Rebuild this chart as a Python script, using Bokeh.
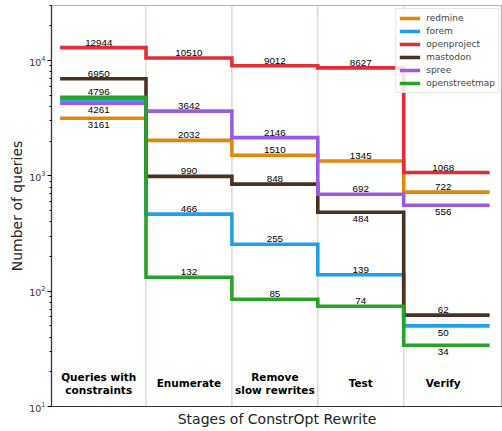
from bokeh.plotting import figure
from bokeh.models import Range1d, Legend, LegendItem, FixedTicker, LogTicker, Span
from bokeh.core.properties import value
from bokeh.embed import file_html
from bokeh.resources import INLINE

# ---- data ----
stages = ["Queries with\nconstraints", "Enumerate", "Remove\nslow rewrites", "Test", "Verify"]
series_names = ["redmine", "forem", "openproject", "mastodon", "spree", "openstreetmap"]
redmine = [3161, 2032, 1510, 1345, 722]
forem = [4560, 466, 255, 139, 50]
openproject = [12944, 10510, 9012, 8627, 1068]
mastodon = [6950, 990, 848, 484, 62]
spree = [4261, 3642, 2146, 692, 556]
openstreetmap = [4796, 132, 85, 74, 34]
all_values = [redmine, forem, openproject, mastodon, spree, openstreetmap]

# ---- styling ----
colors = ["#e0870c", "#22a0e6", "#e12d36", "#4a3122", "#9a5ae6", "#27a327"]
# label placement per series & stage: 1 above line, -1 below line, 0 not shown
placement = [
    [-1, 1, 1, 1, 1],
    [0, 1, 1, 1, -1],
    [1, 1, 1, 1, 1],
    [1, 1, 1, -1, 1],
    [-1, 1, 1, 1, -1],
    [1, 1, 1, 1, -1],
]
label_shift = [-0.05, 0.0, 0.0, 0.0, -0.04]

n = len(stages)
edges = [i - 0.5 for i in range(n + 1)]

p = figure(width=502, height=431, output_backend="svg", toolbar_location=None,
           y_axis_type="log",
           x_range=Range1d(-0.6, 4.65), y_range=Range1d(10, 30000),
           min_border_left=51, min_border_right=0, min_border_top=5, min_border_bottom=25)

p.xgrid.visible = False
p.ygrid.visible = False
p.outline_line_color = "#b0b0b0"
p.outline_line_width = 1.2
p.background_fill_color = "white"

# stage boundaries (drawn beneath the data)
for b in edges[1:-1]:
    p.add_layout(Span(location=b, dimension="height", line_color="#e6d6d6",
                      line_width=1.5, level="underlay"))

renderers = []
for vals, c in zip(all_values, colors):
    xs, ys = [], []
    for i, v in enumerate(vals):
        xs += [edges[i], edges[i + 1]]
        ys += [v, v]
    r = p.line(x=xs, y=ys, line_color=c, line_width=3.6, line_join="miter")
    renderers.append(r)

ax, ay, at = [], [], []
bx, by, bt = [], [], []
for vals, pl in zip(all_values, placement):
    for i, v in enumerate(vals):
        if pl[i] == 1:
            ax.append(i + label_shift[i]); ay.append(v); at.append(str(v))
        elif pl[i] == -1:
            bx.append(i + label_shift[i]); by.append(v); bt.append(str(v))

p.text(x=ax, y=ay, text=at, text_align="center", text_baseline="alphabetic",
       y_offset=-5, text_font=value("Liberation Sans"), text_font_size="9.8px", text_color="black")
p.text(x=bx, y=by, text=bt, text_align="center", text_baseline="top",
       y_offset=4, text_font=value("Liberation Sans"), text_font_size="9.8px", text_color="black")

# stage names inside plot
p.text(x=[i + label_shift[i] for i in range(n)], y=[15.9] * n, text=stages,
       text_align="center", text_baseline="middle", text_font=value("DejaVu Sans"),
       text_font_size="10.5px", text_font_style="bold", text_color="black", text_line_height=1.1)

legend = Legend(items=[LegendItem(label=nm, renderers=[r]) for nm, r in zip(series_names, renderers)],
                location="top_right", margin=3, padding=3, spacing=1,
                glyph_width=21, glyph_height=12, label_height=12, label_standoff=6,
                label_text_font="DejaVu Sans", label_text_font_size="9px",
                border_line_color="#cccccc", border_line_width=1,
                background_fill_alpha=0.85)
p.add_layout(legend)

# axes
xa = p.xaxis[0]
xa.ticker = FixedTicker(ticks=[])
xa.axis_label = "Stages of ConstrOpt Rewrite"
xa.axis_label_text_font = "DejaVu Sans"
xa.axis_label_text_font_size = "14px"
xa.axis_label_text_font_style = "normal"
xa.axis_label_text_color = "#222222"
xa.axis_label_standoff = 4
xa.major_label_text_font_size = "0px"
xa.major_tick_line_color = None
xa.minor_tick_line_color = None
xa.axis_line_color = "#333333"
xa.axis_line_width = 1.2

ya = p.yaxis[0]
ya.ticker = LogTicker(desired_num_ticks=4, num_minor_ticks=10)
ya.axis_label = "Number of queries"
ya.axis_label_text_font = "DejaVu Sans"
ya.axis_label_text_font_size = "14px"
ya.axis_label_text_font_style = "normal"
ya.axis_label_text_color = "#222222"
ya.axis_label_standoff = 1
ya.major_label_text_font = "DejaVu Sans"
ya.major_label_text_font_size = "9.5px"
ya.major_label_text_color = "#333333"
ya.major_label_standoff = 2
ya.major_tick_out = 4
ya.major_tick_in = 0
ya.minor_tick_out = 2
ya.minor_tick_in = 0
ya.axis_line_color = "#333333"
ya.axis_line_width = 1.2

open("out.html", "w").write(file_html(p, INLINE))
